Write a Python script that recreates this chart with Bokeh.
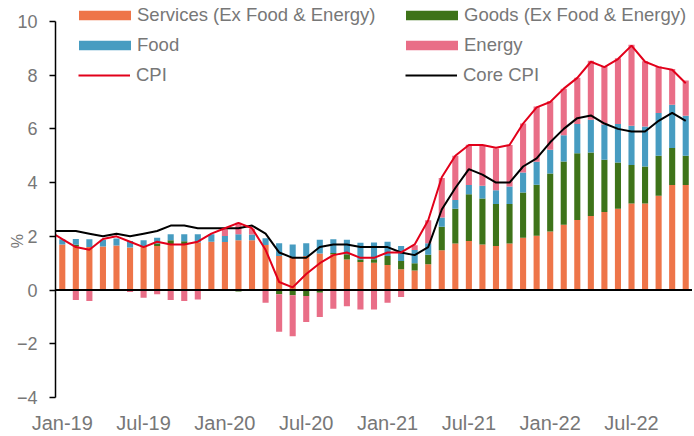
import numpy as np
from bokeh.plotting import figure
from bokeh.models import Span, Legend, LegendItem, FixedTicker
from bokeh.embed import file_html
from bokeh.resources import INLINE

# ---------------- data ----------------
month_names = ["Jan", "Feb", "Mar", "Apr", "May", "Jun",
               "Jul", "Aug", "Sep", "Oct", "Nov", "Dec"]
all_months = [f"{m}-{y:02d}" for y in (18, 19, 20, 21, 22) for m in month_names]
line_months = all_months[11:59]      # Dec-18 .. Nov-22 (first point only enters from the left edge)
bar_months = line_months[1:]         # Jan-19 .. Nov-22

tick_labels = ["Jan-19", "Jul-19", "Jan-20", "Jul-20", "Jan-21", "Jul-21", "Jan-22", "Jul-22"]
y_ticks = [-4, -2, 0, 2, 4, 6, 8, 10]
y_title = "%"

services = [1.70, 1.62, 1.60, 1.62, 1.66, 1.58, 1.60, 1.64, 1.70, 1.70, 1.77, 1.80,
            1.79, 1.85, 1.85, 1.68, 1.27, 1.20, 1.27, 1.36, 1.33, 1.14, 1.04, 1.02,
            0.93, 0.77, 0.73, 0.96, 1.48, 1.73, 1.83, 1.70, 1.64, 1.73, 1.95, 2.02,
            2.18, 2.43, 2.61, 2.76, 2.91, 3.03, 3.22, 3.22, 3.51, 3.91, 3.91]
goods = [0.00, 0.07, 0.00, 0.00, -0.03, 0.00, 0.00, 0.09, 0.15, 0.12, 0.00, 0.00,
         0.00, -0.05, 0.00, 0.00, -0.16, -0.19, -0.22, -0.10, 0.05, 0.19, 0.10, 0.13,
         0.34, 0.31, 0.27, 0.35, 0.88, 1.30, 1.74, 1.71, 1.56, 1.47, 1.68, 1.90,
         2.16, 2.36, 2.48, 2.36, 1.94, 1.72, 1.44, 1.38, 1.49, 1.38, 1.09]
food = [0.19, 0.21, 0.29, 0.25, 0.26, 0.25, 0.25, 0.22, 0.23, 0.26, 0.31, 0.28,
        0.22, 0.23, 0.22, 0.25, 0.47, 0.50, 0.47, 0.51, 0.51, 0.54, 0.62, 0.62,
        0.53, 0.56, 0.49, 0.43, 0.34, 0.32, 0.34, 0.47, 0.52, 0.66, 0.75, 0.86,
        0.88, 0.97, 1.09, 1.22, 1.31, 1.43, 1.46, 1.49, 1.59, 1.61, 1.49]
energy = [0.00, -0.37, -0.41, -0.03, 0.00, -0.07, -0.29, -0.16, -0.37, -0.41, -0.35, -0.02,
          0.25, 0.43, 0.21, -0.47, -1.39, -1.53, -0.97, -0.90, -0.70, -0.60, -0.72, -0.72,
          -0.47, -0.26, 0.18, 0.86, 1.47, 1.65, 1.50, 1.52, 1.55, 1.54, 1.82, 2.05,
          1.81, 1.73, 1.72, 2.20, 2.17, 2.45, 3.01, 2.43, 1.73, 1.33, 1.31]

cpi = [2.2, 1.9, 1.6, 1.5, 1.9, 2.0, 1.8, 1.6, 1.8, 1.7, 1.7, 1.8, 2.1,
       2.3, 2.5, 2.3, 1.5, 0.3, 0.1, 0.6, 1.0, 1.3, 1.4, 1.2, 1.2,
       1.4, 1.4, 1.7, 2.6, 4.2, 5.0, 5.4, 5.4, 5.3, 5.4, 6.2, 6.8,
       7.0, 7.5, 7.9, 8.5, 8.3, 8.6, 9.1, 8.5, 8.3, 8.2, 7.7]
core_cpi = [2.2, 2.2, 2.2, 2.1, 2.0, 2.1, 2.0, 2.1, 2.2, 2.4, 2.4, 2.3, 2.3,
            2.3, 2.3, 2.4, 2.1, 1.4, 1.2, 1.2, 1.6, 1.7, 1.7, 1.6, 1.6,
            1.6, 1.4, 1.3, 1.6, 3.0, 3.8, 4.5, 4.3, 4.0, 4.0, 4.6, 4.9,
            5.5, 6.0, 6.4, 6.5, 6.2, 6.0, 5.9, 5.9, 6.3, 6.6, 6.3]

# ---------------- style ----------------
C_SERV = "#EE7549"
C_GOODS = "#3E7319"
C_FOOD = "#479CC1"
C_ENERGY = "#E96E87"
C_CPI = "#E2001A"
C_CORE = "#000000"
TXT = "#777777"
FONT = "Liberation Sans"

bar_x = np.arange(len(bar_months))
line_x = np.arange(len(line_months)) - 1

# y range reaches a little above the top tick so the legend can sit inside the frame;
# the axis itself is bounded to the tick span
p = figure(width=692, height=436, x_range=(-0.5, len(bar_months) - 0.5),
           y_range=(y_ticks[0], y_ticks[-1] + 0.78),
           output_backend="svg", toolbar_location=None,
           min_border_left=55, min_border_right=0, min_border_top=0, min_border_bottom=39)
p.outline_line_color = None
p.xgrid.visible = False
p.ygrid.visible = False
p.background_fill_color = "white"

# stacked bars (positives up from 0, negatives down from 0)
series = [("Services (Ex Food & Energy)", services, C_SERV),
          ("Goods (Ex Food & Energy)", goods, C_GOODS),
          ("Food", food, C_FOOD),
          ("Energy", energy, C_ENERGY)]
pos = np.zeros(len(bar_x))
neg = np.zeros(len(bar_x))
rend = {}
for name, vals, col in series:
    v = np.array(vals, dtype=float)
    bottom = np.where(v >= 0, pos, neg + v)
    top = np.where(v >= 0, pos + v, neg)
    pos = np.where(v >= 0, pos + v, pos)
    neg = np.where(v < 0, neg + v, neg)
    rend[name] = p.vbar(x=bar_x, bottom=bottom, top=top, width=0.45,
                        fill_color=col, line_color=None)

p.add_layout(Span(location=0, dimension="width", line_color="black", line_width=2))

r_core = p.line(line_x, core_cpi, line_color=C_CORE, line_width=2)
r_cpi = p.line(line_x, cpi, line_color=C_CPI, line_width=2)

# axes
yax = p.yaxis[0]
yax.bounds = (y_ticks[0], y_ticks[-1])
yax.ticker = FixedTicker(ticks=y_ticks)
yax.axis_line_color = "black"
yax.axis_line_width = 1.5
yax.major_tick_line_color = "black"
yax.major_tick_line_width = 1.5
yax.major_tick_out = 6
yax.major_tick_in = 0
yax.minor_tick_line_color = None
yax.major_label_standoff = 12
yax.major_label_text_font = FONT
yax.major_label_text_font_size = "18px"
yax.major_label_text_color = TXT
# non-breaking spaces after the title push the visible "%" lower along the axis
yax.axis_label = y_title + "\u00a0" * 19
yax.axis_label_standoff = -12
yax.axis_label_text_font = FONT
yax.axis_label_text_font_size = "16px"
yax.axis_label_text_font_style = "normal"
yax.axis_label_text_color = TXT

xax = p.xaxis[0]
tick_pos = [bar_months.index(t) for t in tick_labels]
xax.ticker = FixedTicker(ticks=tick_pos)
xax.major_label_overrides = {int(t): lab for t, lab in zip(tick_pos, tick_labels)}
xax.axis_line_color = None
xax.major_tick_line_color = None
xax.major_tick_out = 0
xax.major_tick_in = 0
xax.minor_tick_line_color = None
xax.major_label_standoff = 14
xax.major_label_text_font = FONT
xax.major_label_text_font_size = "20px"
xax.major_label_text_color = TXT

# legends (three rows, two columns)
def make_legend(items, loc, glyph_w, standoff, label_w):
    leg = Legend(items=items, location=loc, orientation="horizontal",
                 glyph_width=glyph_w, glyph_height=12, label_standoff=standoff,
                 label_width=label_w, label_height=20, spacing=0, padding=0, margin=0,
                 border_line_color=None, background_fill_alpha=0,
                 label_text_font=FONT, label_text_font_size="18.5px",
                 label_text_color=TXT)
    p.add_layout(leg)

make_legend([LegendItem(label="Services (Ex Food & Energy)", renderers=[rend["Services (Ex Food & Energy)"]]),
             LegendItem(label="Goods (Ex Food & Energy)", renderers=[rend["Goods (Ex Food & Energy)"]])],
            (17, 371), 65, 0, 262)
make_legend([LegendItem(label="Food", renderers=[rend["Food"]]),
             LegendItem(label="Energy", renderers=[rend["Energy"]])],
            (17, 341), 65, 0, 262)
make_legend([LegendItem(label="CPI", renderers=[r_cpi]),
             LegendItem(label="Core CPI", renderers=[r_core])],
            (23, 311), 52, 6, 269)

open("out.html", "w").write(file_html(p, INLINE))
